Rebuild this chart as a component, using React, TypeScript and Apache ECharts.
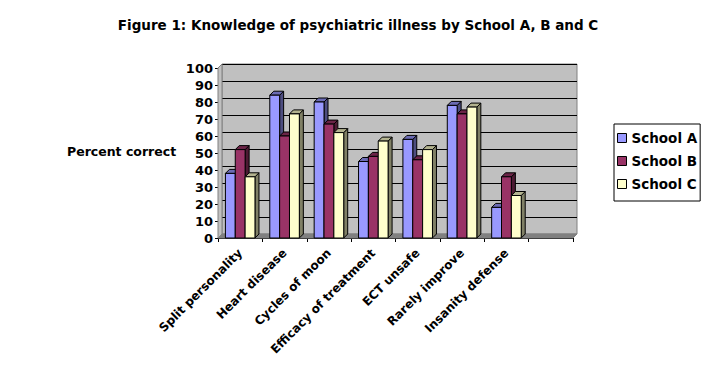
import React, { useEffect, useRef } from "react";
import * as echarts from "echarts";

const categories = [
  "Split personality",
  "Heart disease",
  "Cycles of moon",
  "Efficacy of treatment",
  "ECT unsafe",
  "Rarely improve",
  "Insanity defense",
  "",
];
const seriesNames = ["School A", "School B", "School C"];
const schoolA = [38, 84, 80, 45, 58, 78, 18];
const schoolB = [52, 60, 67, 48, 46, 73, 36];
const schoolC = [36, 73, 62, 57, 52, 77, 25];
const yTicks = [0, 10, 20, 30, 40, 50, 60, 70, 80, 90, 100];

const FONT = "'DejaVu Sans', Verdana, sans-serif";
const frontColors = ["#9999FF", "#993366", "#FFFFCC"];
const sideColors = ["#4D4D80", "#4D1A33", "#808066"];
const topColors = ["#6B6BB3", "#6B2447", "#B3B38F"];

const G = { left: 218, top: 68, width: 355, height: 170 };
const D = 4;

function makeRender(si: number) {
  return (params: any, api: any) => {
    const idx = api.value(0);
    const val = api.value(1);
    const top = api.coord([idx, val]);
    const base = api.coord([idx, 0]);
    const band = api.size([1, 0])[0];
    const bw = band * 0.222;
    const x0 = top[0] - 1.5 * bw + si * bw;
    const x1 = x0 + bw;
    const ty = top[1];
    const by = base[1];
    const stroke = { stroke: "#000", lineWidth: 1 };
    return {
      type: "group",
      children: [
        {
          type: "polygon",
          shape: { points: [[x1, ty], [x1 + D, ty - D], [x1 + D, by - D], [x1, by]] },
          style: { fill: sideColors[si], ...stroke },
        },
        {
          type: "polygon",
          shape: { points: [[x0, ty], [x0 + D, ty - D], [x1 + D, ty - D], [x1, ty]] },
          style: { fill: topColors[si], ...stroke },
        },
        {
          type: "rect",
          shape: { x: x0, y: ty, width: bw, height: by - ty },
          style: { fill: frontColors[si], ...stroke },
        },
      ],
    };
  };
}

export default function App() {
  const ref = useRef<HTMLDivElement>(null);
  useEffect(() => {
    if (!ref.current) return;
    const chart = echarts.init(ref.current, undefined, { renderer: "svg" });
    const all = [schoolA, schoolB, schoolC];
    chart.setOption({
      animation: false,
      backgroundColor: "#FFFFFF",
      title: {
        text: "Figure 1: Knowledge of psychiatric illness by School A, B and C",
        left: "center",
        top: 13,
        textStyle: { fontFamily: FONT, fontSize: 13.5, fontWeight: "bold", color: "#000" },
      },
      graphic: [
        {
          type: "polygon",
          shape: {
            points: [
              [G.left, G.top + G.height],
              [G.left + D, G.top + G.height - D],
              [G.left + G.width + D, G.top + G.height - D],
              [G.left + G.width, G.top + G.height],
            ],
          },
          style: { fill: "#808080", stroke: "#808080" },
          z: 1,
        },
        {
          type: "polygon",
          shape: {
            points: [
              [G.left, G.top],
              [G.left + D, G.top - D],
              [G.left + D, G.top + G.height - D],
              [G.left, G.top + G.height],
            ],
          },
          style: { fill: "#C0C0C0", stroke: "#808080" },
          z: 1,
        },
        {
          type: "text",
          left: 67,
          top: 145,
          style: {
            text: "Percent correct",
            font: `bold 12.5px ${FONT}`,
            fill: "#000",
          },
        },
      ],
      legend: {
        data: seriesNames,
        orient: "vertical",
        left: 614,
        top: 124,
        icon: "rect",
        itemWidth: 9,
        itemHeight: 9,
        itemGap: 9,
        padding: [7, 3, 10, 3],
        borderColor: "#000",
        borderWidth: 1,
        itemStyle: { borderColor: "#000", borderWidth: 1 },
        textStyle: { fontFamily: FONT, fontSize: 13.5, fontWeight: "bold", color: "#000", padding: [0, 0, 0, 0] },
      },
      grid: [
        {
          left: G.left + D,
          top: G.top - D,
          width: G.width,
          height: G.height,
          show: true,
          backgroundColor: "#C0C0C0",
          borderColor: "#808080",
          borderWidth: 1,
        },
        { left: G.left, top: G.top, width: G.width, height: G.height },
      ],
      xAxis: [
        { type: "category", data: categories, gridIndex: 0, show: false },
        {
          type: "category",
          data: categories,
          gridIndex: 1,
          axisLine: { show: true, lineStyle: { color: "#000", width: 1 } },
          axisTick: { show: true, length: 4, lineStyle: { color: "#000" } },
          axisLabel: {
            rotate: 45,
            interval: 0,
            margin: 13,
            fontFamily: FONT,
            fontSize: 12,
            fontWeight: "bold",
            color: "#000",
          },
        },
      ],
      yAxis: [
        {
          type: "value",
          gridIndex: 0,
          min: 0,
          max: 100,
          interval: 10,
          axisLine: { show: false },
          axisTick: { show: false },
          axisLabel: { show: false },
          splitLine: { show: true, lineStyle: { color: "#000", width: 1 } },
        },
        {
          type: "value",
          gridIndex: 1,
          min: yTicks[0],
          max: yTicks[yTicks.length - 1],
          interval: 10,
          axisLine: { show: true, lineStyle: { color: "#000", width: 1 } },
          axisTick: { show: true, length: 3, lineStyle: { color: "#000" } },
          splitLine: { show: false },
          axisLabel: {
            margin: 5,
            fontFamily: FONT,
            fontSize: 13,
            fontWeight: "bold",
            color: "#000",
          },
        },
      ],
      series: seriesNames.map((name, si) => ({
        name,
        type: "custom",
        xAxisIndex: 1,
        yAxisIndex: 1,
        z: 5,
        itemStyle: { color: frontColors[si], borderColor: "#000", borderWidth: 1 },
        renderItem: makeRender(si),
        encode: { x: 0, y: 1 },
        data: all[si].map((v, i) => [i, v]),
      })),
    });
    return () => chart.dispose();
  }, []);
  return (
    <div
      ref={ref}
      style={{ position: "absolute", left: 0, top: 0, width: 716, height: 375 }}
    />
  );
}
